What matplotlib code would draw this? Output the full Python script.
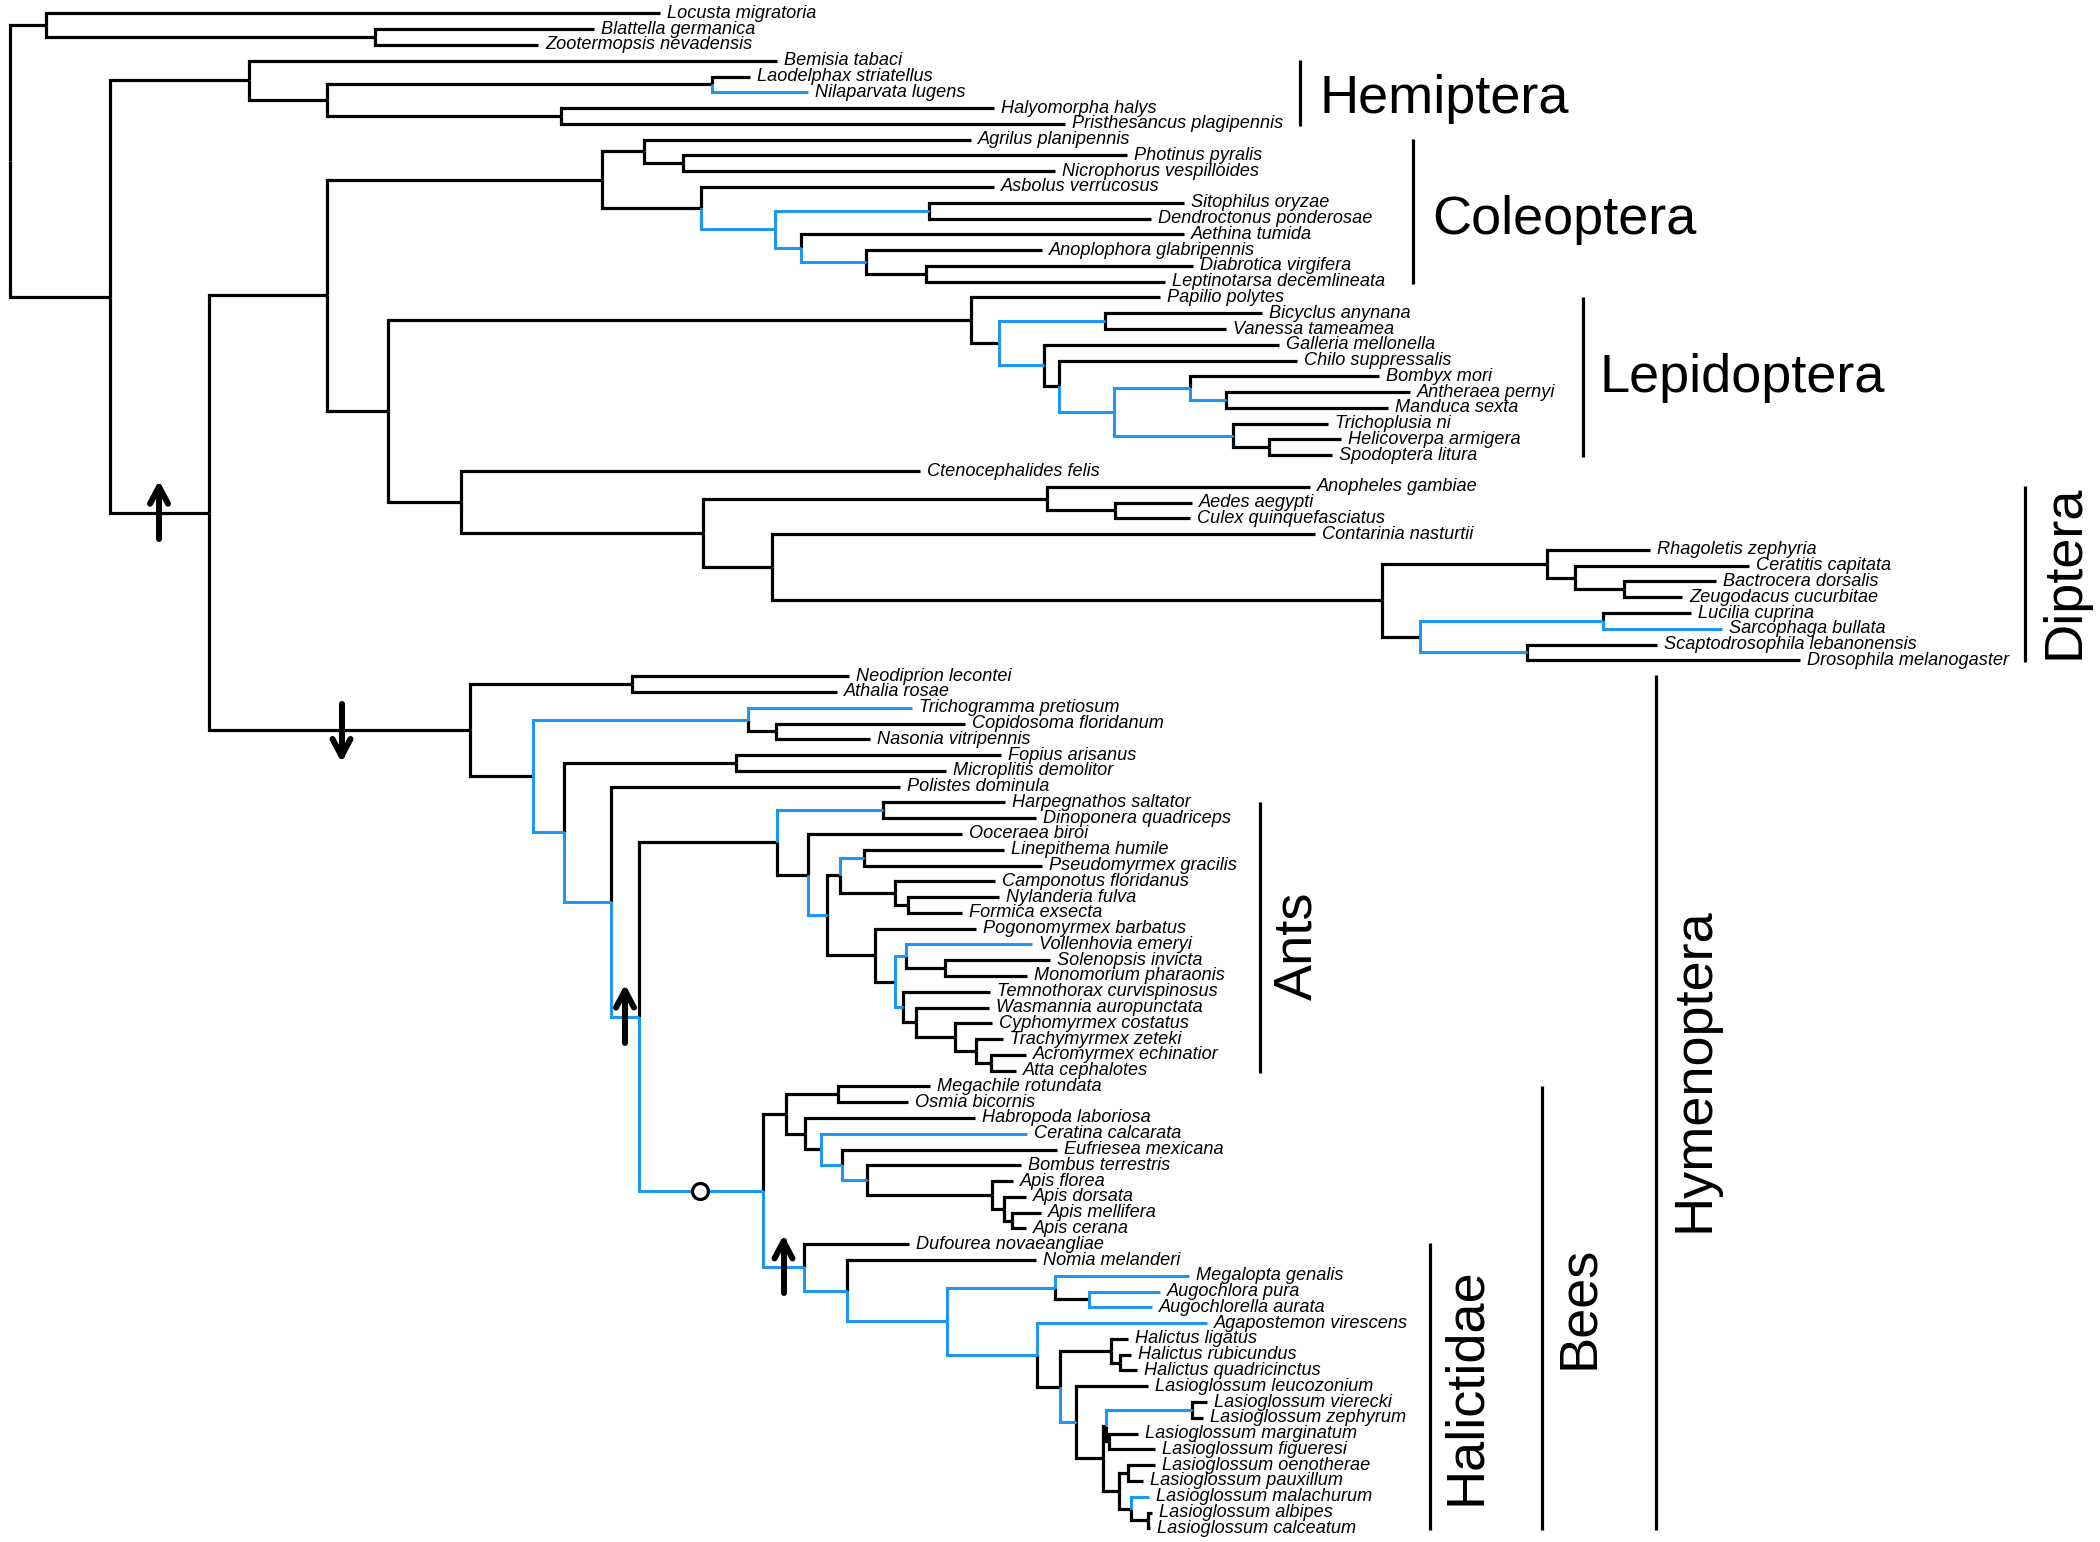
import matplotlib
matplotlib.use("Agg")
import matplotlib.pyplot as plt

plt.rcParams['font.family'] = ['Liberation Sans', 'DejaVu Sans']

# === Tree data ===
# Newick-style pieces: "name:x" where x is the node depth (horizontal position),
# a trailing "*" on a name marks a branch drawn in blue.
POLYNEOPTERA = "(Locusta migratoria:660,(Blattella germanica:594,Zootermopsis nevadensis:538):375):46"

HEMIPTERA = ("(Bemisia tabaci:777,((Laodelphax striatellus:750,Nilaparvata lugens*:808):712,"
             "(Halyomorpha halys:994,Pristhesancus plagipennis:1065):561):327):249")

COLEOPTERA = ("((Agrilus planipennis:971,(Photinus pyralis:1127,Nicrophorus vespilloides:1055):683):644,"
              "(Asbolus verrucosus:994,((Sitophilus oryzae:1184,Dendroctonus ponderosae:1151)*:929,"
              "(Aethina tumida:1184,(Anoplophora glabripennis:1042,(Diabrotica virgifera:1193,"
              "Leptinotarsa decemlineata:1165):926)*:866)*:801)*:774.5):700.5):602")

LEPIDOPTERA = ("(Papilio polytes:1160,((Bicyclus anynana:1262,Vanessa tameamea:1226)*:1105,"
               "(Galleria mellonella:1279,(Chilo suppressalis:1297,((Bombyx mori:1379,"
               "(Antheraea pernyi:1410,Manduca sexta:1388)*:1226)*:1190,(Trichoplusia ni:1328,"
               "(Helicoverpa armigera:1341,Spodoptera litura:1332):1269)*:1233)*:1114):1059)*:1044):999):971")

FLEA_DIPTERA = ("(Ctenocephalides felis:920,((Anopheles gambiae:1310,(Aedes aegypti:1192,"
                "Culex quinquefasciatus:1190):1115):1047,(Contarinia nasturtii:1315,"
                "((Rhagoletis zephyria:1650,(Ceratitis capitata:1749,(Bactrocera dorsalis:1716,"
                "Zeugodacus cucurbitae:1682):1624):1574.5):1547,((Lucilia cuprina:1691,"
                "Sarcophaga bullata*:1722)*:1602.5,(Scaptodrosophila lebanonensis:1657,"
                "Drosophila melanogaster:1800)*:1527):1420):1382):772):703):461")

ANTS = ("((Harpegnathos saltator:1005,Dinoponera quadriceps:1036)*:883,(Ooceraea biroi:962,"
        "(((Linepithema humile:1004,Pseudomyrmex gracilis:1042)*:864,(Camponotus floridanus:995,"
        "(Nylanderia fulva:999,Formica exsecta:962):908):895):840,(Pogonomyrmex barbatus:976,"
        "((Vollenhovia emeryi*:1032,(Solenopsis invicta:1050,Monomorium pharaonis:1027):945)*:905.6,"
        "(Temnothorax curvispinosus:990,(Wasmannia auropunctata:989,(Cyphomyrmex costatus:992,"
        "(Trachymyrmex zeteki:1003,(Acromyrmex echinatior:1026,Atta cephalotes:1016):991):976):955)"
        ":916)*:903):895):875)*:826.5):808):777")

CORBICULATES = ("((Megachile rotundata:930,Osmia bicornis:908):838,(Habropoda laboriosa:975,"
                "(Ceratina calcarata*:1027,(Eufriesea mexicana:1057,(Bombus terrestris:1021,"
                "(Apis florea:1013,(Apis dorsata:1026,(Apis mellifera:1041,Apis cerana:1026):1012)"
                ":1004):992)*:867)*:842):821):805):786")

HALICTIDAE = ("(Dufourea novaeangliae:909,(Nomia melanderi:1036,((Megalopta genalis*:1189,"
              "(Augochlora pura*:1160,Augochlorella aurata*:1152):1089)*:1055,(Agapostemon virescens*:1207,"
              "((Halictus ligatus:1128,(Halictus rubicundus:1131,Halictus quadricinctus:1137):1120):1111,"
              "(Lasioglossum leucozonium:1148,(((Lasioglossum vierecki:1207,Lasioglossum zephyrum:1203)*:1192,"
              "(Lasioglossum marginatum:1138,Lasioglossum figueresi:1155):1108.5):1106,"
              "((Lasioglossum oenotherae:1155,Lasioglossum pauxillum:1143):1128,"
              "(Lasioglossum malachurum*:1149,(Lasioglossum albipes:1152,Lasioglossum calceatum:1150)"
              ":1148):1131):1119):1103)*:1076):1060)*:1037)*:947)*:847)Halictidae*:803.6")

BEES = "(" + CORBICULATES + "," + HALICTIDAE + ")Bees*:763"

HYMENOPTERA = ("((Neodiprion lecontei:849,Athalia rosae:837):632,((Trichogramma pretiosum*:912,"
               "(Copidosoma floridanum:965,Nasonia vitripennis:870):775.5)*:747.5,"
               "((Fopius arisanus:1001,Microplitis demolitor:946):736,(Polistes dominula:900,"
               "(" + ANTS + "," + BEES + ")AntsBees*:639)*:611)*:564):533)Hymenoptera:470")

TREE = ("(" + POLYNEOPTERA + ",(" + HEMIPTERA + ",((" + COLEOPTERA + ",(" + LEPIDOPTERA + ","
        + FLEA_DIPTERA + "):388):327," + HYMENOPTERA + ")Holometabola:208.5):110):10")

# === Annotations ===
ARROW_NODES = ["Holometabola", "Hymenoptera", "AntsBees", "Halictidae"]
ARROW_X = [159, 341.5, 625, 783.5]
ARROW_UP = [True, False, True, True]
CIRCLE_NODE = "Bees"
CIRCLE_X = 700

CLADE_NAMES = ["Hemiptera", "Coleoptera", "Lepidoptera", "Diptera",
               "Hymenoptera", "Ants", "Bees", "Halictidae"]
CLADE_FIRST = ["Bemisia tabaci", "Agrilus planipennis", "Papilio polytes", "Anopheles gambiae",
               "Neodiprion lecontei", "Harpegnathos saltator", "Megachile rotundata",
               "Dufourea novaeangliae"]
CLADE_LAST = ["Pristhesancus plagipennis", "Leptinotarsa decemlineata", "Spodoptera litura",
              "Drosophila melanogaster", "Lasioglossum calceatum", "Atta cephalotes",
              "Lasioglossum calceatum", "Lasioglossum calceatum"]

# layout of clade bars / labels: bar x, label x (baseline for vertical), label y (row units), vertical?
BAR_X = [1300, 1413, 1583, 2025, 1655.6, 1260, 1542, 1430]
LABEL_X = [1319, 1432, 1599, 2078, 1708, 1311, 1593, 1480]
LABEL_Y = [6.3, 13.98, 24.0, 35.4, 66.96, 59.1, 81.97, 86.98]
LABEL_VERTICAL = [False, False, False, True, True, True, True, True]

BLUE = "#1E96F5"
PX_PER_ROW = 15.78


# === Parse the tree ===
def parse_newick(text):
    pos = 0

    def node():
        nonlocal pos
        children = []
        if text[pos] == '(':
            pos += 1
            while True:
                children.append(node())
                if text[pos] == ',':
                    pos += 1
                    continue
                pos += 1  # ')'
                break
        start = pos
        while text[pos] not in ':,);':
            pos += 1
        name = text[start:pos].strip()
        depth = 0.0
        if text[pos] == ':':
            pos += 1
            start = pos
            while pos < len(text) and text[pos] not in ',);':
                pos += 1
            depth = float(text[start:pos])
        blue = name.endswith('*')
        return {'name': name.rstrip('*'), 'x': depth, 'blue': blue, 'children': children}

    return node()


root = parse_newick(TREE)
tips = []
named = {}


def layout(n):
    if n['name']:
        named[n['name']] = n
    if not n['children']:
        n['y'] = len(tips)
        tips.append(n)
    else:
        for c in n['children']:
            layout(c)
        n['y'] = (n['children'][0]['y'] + n['children'][-1]['y']) / 2


layout(root)

# === Plot ===
fig = plt.figure(figsize=(21, 15.42), dpi=100)
ax = fig.add_axes([0, 0, 1, 1])
ax.set_xlim(0, 2100)
ax.set_ylim((1542 - 13.4) / PX_PER_ROW, -13.4 / PX_PER_ROW)
ax.axis('off')


def draw(n):
    for c in n['children']:
        col = BLUE if c['blue'] else 'black'
        ax.plot([n['x'], n['x'], c['x']], [n['y'], c['y'], c['y']], color=col,
                lw=2.2 if c['blue'] else 2.3,
                solid_joinstyle='miter', solid_capstyle='butt', zorder=3 if c['blue'] else 2)
        draw(c)


draw(root)

for t in tips:
    ax.text(t['x'] + 7, t['y'], t['name'], fontsize=13.1, style='italic', va='center', ha='left')

# arrows
for name, x, up in zip(ARROW_NODES, ARROW_X, ARROW_UP):
    y = named[name]['y']
    half = 26 / PX_PER_ROW
    head = 17 / PX_PER_ROW
    s = -1 if up else 1
    tip_y = y + s * half
    ax.plot([x, x], [y - s * half, tip_y], color='black', lw=4.3, solid_capstyle='round', zorder=5)
    ax.plot([x - 9, x, x + 9], [tip_y - s * head, tip_y, tip_y - s * head], color='black', lw=4.3,
            solid_capstyle='round', solid_joinstyle='round', zorder=5)

ax.plot([CIRCLE_X], [named[CIRCLE_NODE]['y']], marker='o', ms=11.5, mfc='white', mec='black',
        mew=2.3, zorder=6)

# clade bars and labels
for i, label in enumerate(CLADE_NAMES):
    y0 = named[CLADE_FIRST[i]]['y'] - 0.05
    y1 = named[CLADE_LAST[i]]['y'] + 0.12
    ax.plot([BAR_X[i], BAR_X[i]], [y0, y1], color='black', lw=2.3, solid_capstyle='butt')
    if LABEL_VERTICAL[i]:
        ax.text(LABEL_X[i], LABEL_Y[i], label, fontsize=39, rotation=90, rotation_mode='anchor',
                ha='center', va='baseline')
    else:
        ax.text(LABEL_X[i], LABEL_Y[i], label, fontsize=39, ha='left', va='baseline')

fig.savefig("out.png", dpi=100)
